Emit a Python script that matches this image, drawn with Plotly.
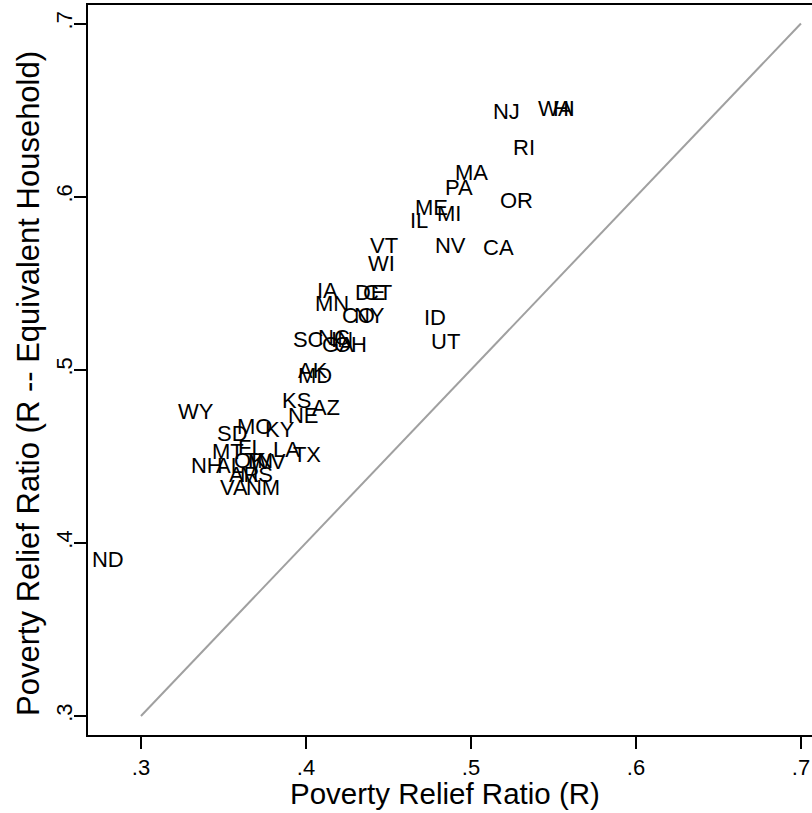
import plotly.graph_objects as go

states = ["ND","WY","SD","MO","KY","KS","NE","AZ","MT","FL","LA","TX","NH","AL","OK","TN","WV",
          "AR","MS","VA","NM","AK","MD","SC","NC","IN","GA","OH","IA","MN","DE","CT","CO","NY",
          "ID","UT","WI","VT","IL","ME","MI","NV","CA","PA","MA","OR","RI","NJ","WA","HI"]
r_ratio = [0.2703,0.3224,0.3461,0.3582,0.3752,0.3855,0.3891,0.4036,0.3430,0.3588,0.3800,0.3921,
           0.3303,0.3455,0.3564,0.3624,0.3661,0.3533,0.3600,0.3479,0.3636,0.3952,0.3952,0.3921,
           0.4073,0.4152,0.4097,0.4170,0.4067,0.4055,0.4297,0.4345,0.4218,0.4291,0.4715,0.4758,
           0.4376,0.4388,0.4630,0.4661,0.4794,0.4782,0.5073,0.4842,0.4903,0.5176,0.5255,0.5133,
           0.5406,0.5497]
r_equiv = [0.3895,0.4750,0.4623,0.4658,0.4641,0.4808,0.4727,0.4768,0.4519,0.4537,0.4525,0.4496,
           0.4433,0.4433,0.4462,0.4467,0.4456,0.4381,0.4386,0.4311,0.4311,0.4982,0.4953,0.5166,
           0.5172,0.5166,0.5132,0.5132,0.5444,0.5369,0.5432,0.5432,0.5299,0.5299,0.5288,0.5149,
           0.5600,0.5704,0.5848,0.5923,0.5889,0.5704,0.5692,0.6044,0.6125,0.5964,0.6270,0.6478,
           0.6495,0.6495]
diag = [0.3, 0.7]
tick_vals = [0.3, 0.4, 0.5, 0.6, 0.7]
tick_text = [".3", ".4", ".5", ".6", ".7"]

FONT = "Liberation Sans, Arial, Helvetica, sans-serif"

fig = go.Figure()
fig.add_trace(go.Scatter(x=diag, y=diag, mode="lines",
                         line=dict(color="#a0a0a0", width=2), hoverinfo="skip"))
fig.add_trace(go.Scatter(x=r_ratio, y=r_equiv, mode="text", text=states,
                         textposition="middle right",
                         textfont=dict(family=FONT, size=22, color="black")))

W, H = 812, 813
L, R, T, B = 88, 0, 5, 78

fig.update_layout(
    width=W, height=H,
    margin=dict(l=L, r=R, t=T, b=B),
    paper_bgcolor="white", plot_bgcolor="white",
    showlegend=False,
    xaxis=dict(range=[0.2679, 0.7067], tickvals=tick_vals, ticktext=tick_text,
               showgrid=False, zeroline=False, showline=True, mirror=True,
               linecolor="black", linewidth=2, ticks="outside", ticklen=12,
               tickwidth=2, tickcolor="black",
               tickfont=dict(family=FONT, size=22, color="black")),
    yaxis=dict(range=[0.2890, 0.7107], tickvals=tick_vals, ticktext=tick_text,
               showgrid=False, zeroline=False, showline=True, mirror=False,
               linecolor="black", linewidth=2, ticks="outside", ticklen=12,
               tickwidth=2, tickcolor="black", tickangle=-90, ticklabelstandoff=-7,
               tickfont=dict(family=FONT, size=22, color="black")),
    annotations=[
        dict(text="Poverty Relief Ratio (R)", xref="paper", yref="paper",
             x=(445 - L) / (W - L), y=(735 - 793) / 730, showarrow=False,
             xanchor="center", yanchor="middle",
             font=dict(family=FONT, size=29.5, color="black")),
        dict(text="Poverty Relief Ratio (R -- Equivalent Household)", xref="paper", yref="paper",
             x=(28 - L) / (W - L), y=(735 - 384) / 730, showarrow=False, textangle=-90,
             xanchor="center", yanchor="middle",
             font=dict(family=FONT, size=31, color="black")),
    ],
)

fig.write_html("out.html", config={"displayModeBar": False},
               post_script="document.body.style.margin='0';document.body.style.overflow='hidden';")
